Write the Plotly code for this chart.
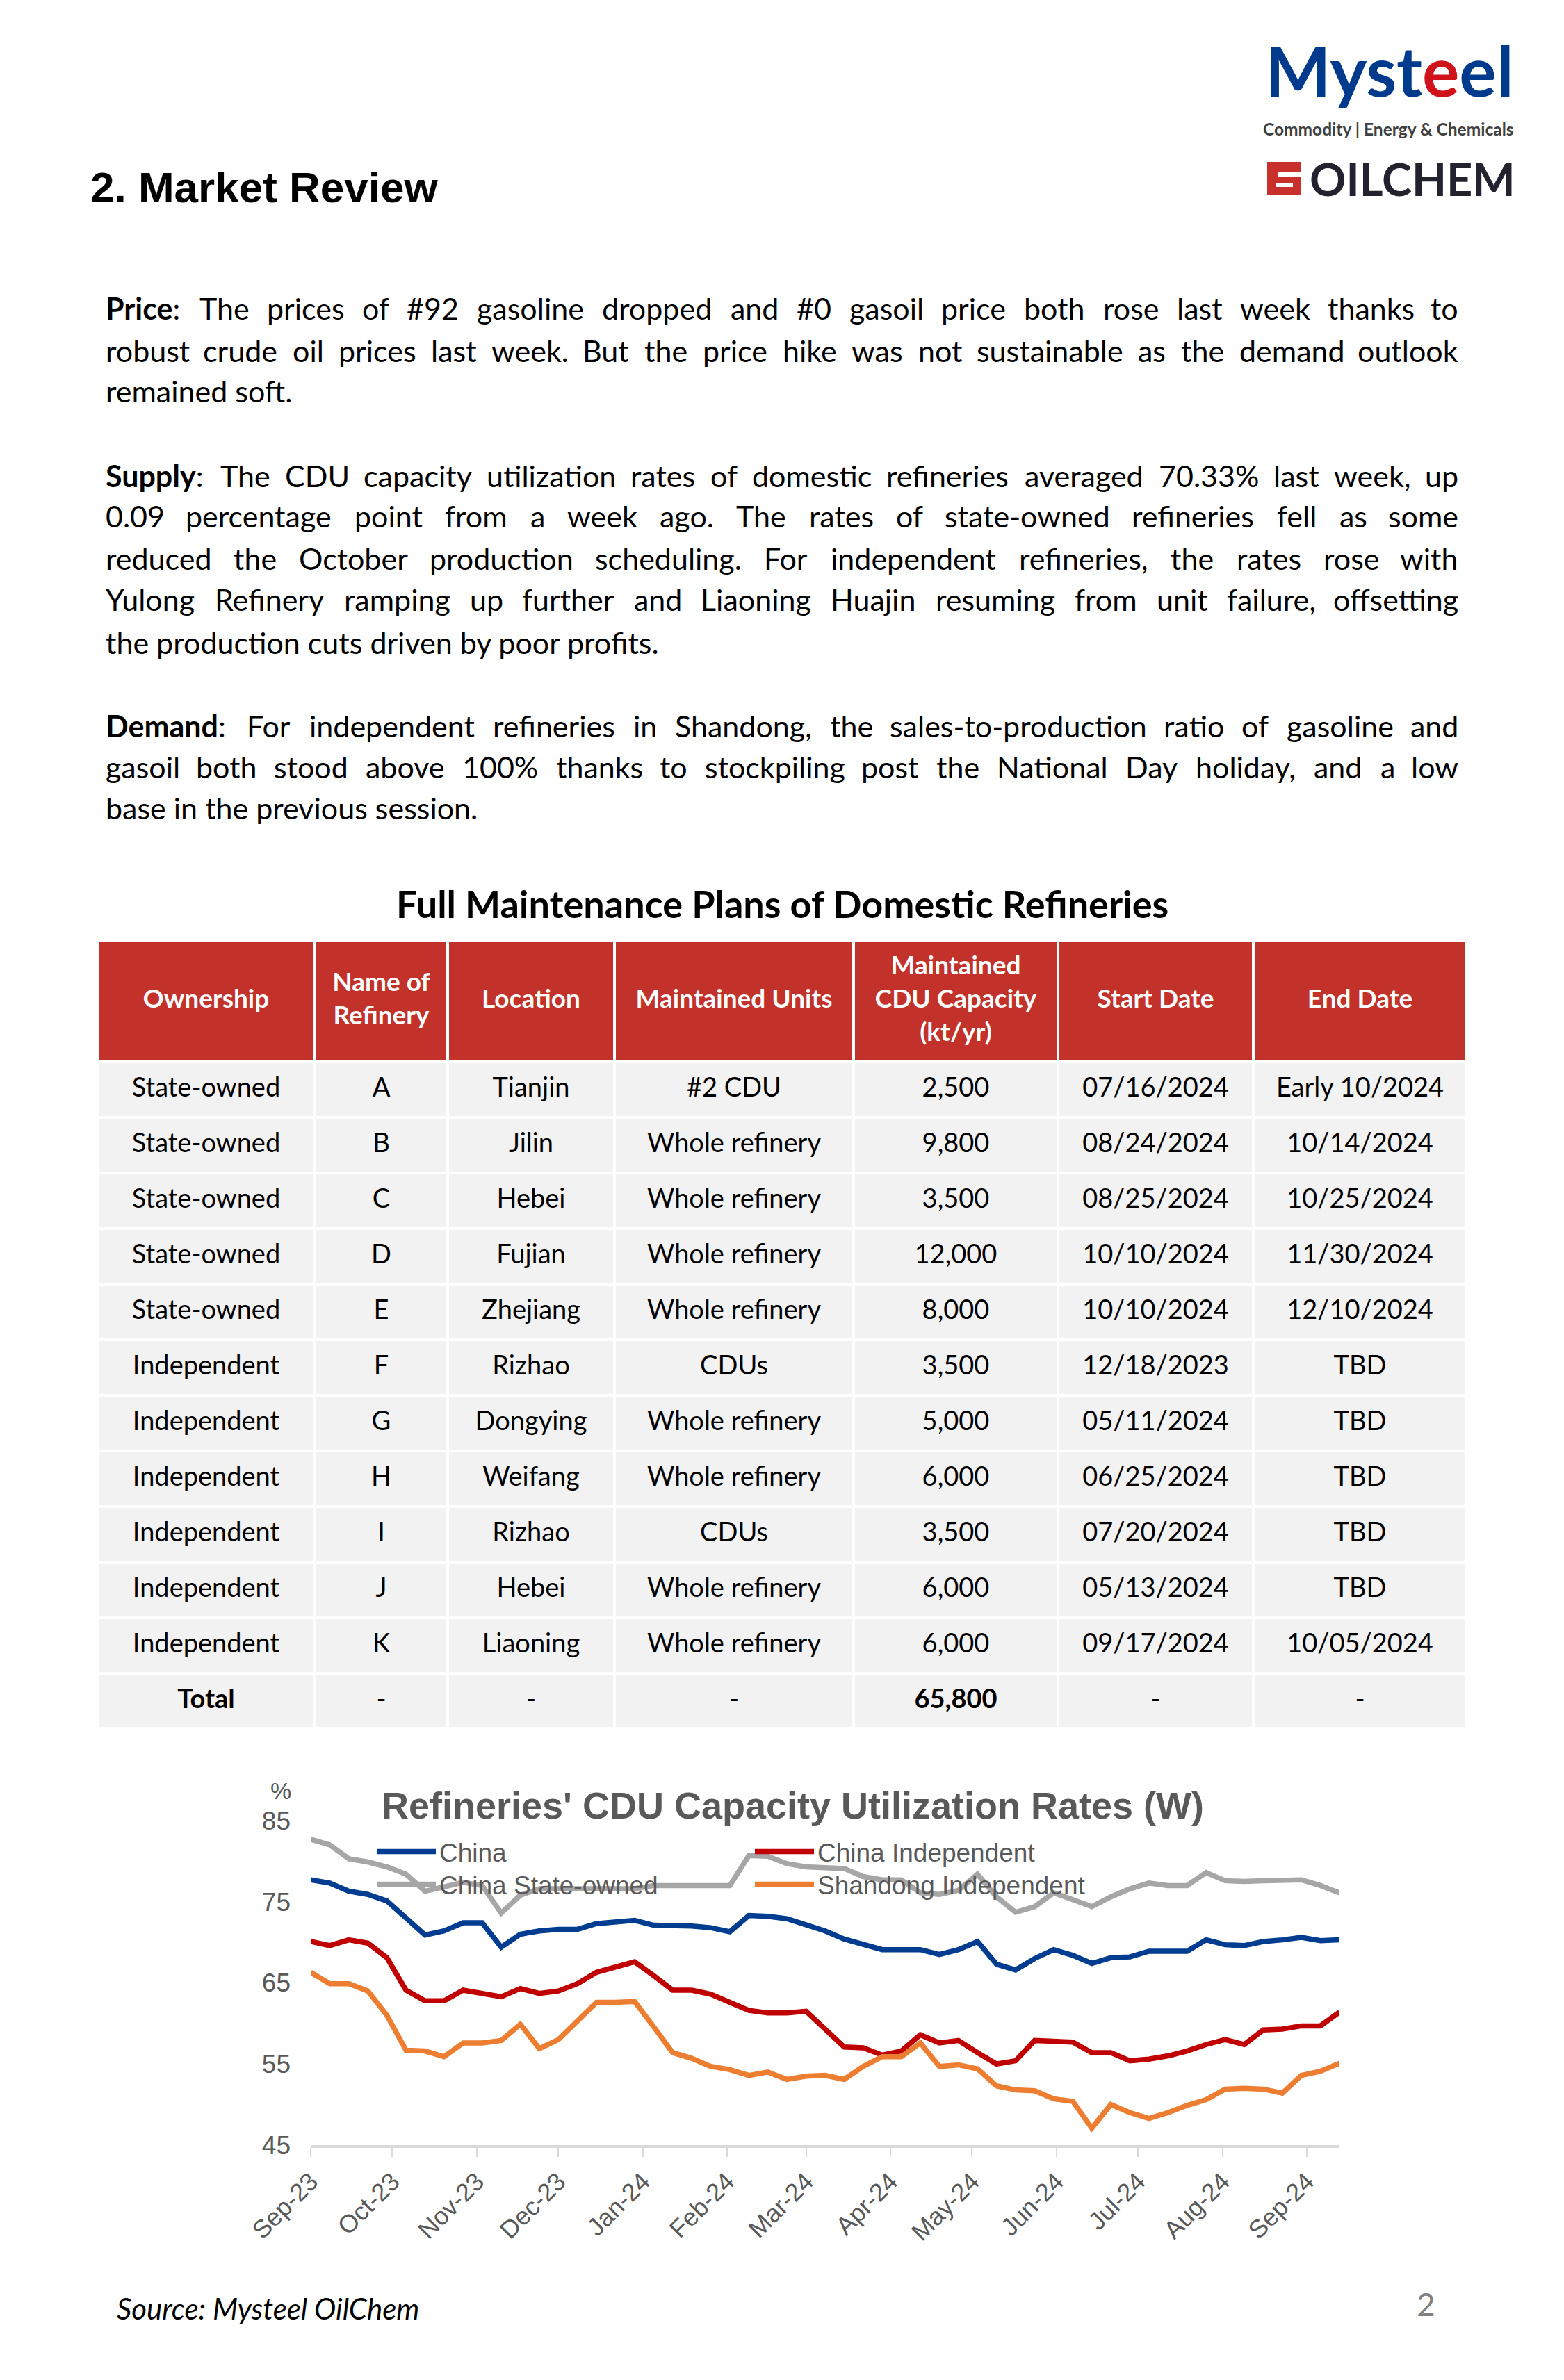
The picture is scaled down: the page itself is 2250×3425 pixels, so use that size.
"""Market review page: commentary, refinery maintenance table and CDU utilization chart."""

import pandas as pd
import plotly.graph_objects as go

PAGE_W = 2250
PAGE_H = 3425
PAGE_OFFSET = 8  # default body margin of the html page

# ---- weekly CDU capacity utilization rates (%) ----
WEEK_START = "2023-09-28"
CHINA = [
    77.7, 77.3, 76.3, 75.9, 75.1, 73.0, 70.9, 71.4, 72.4, 72.4,
    69.4, 71.0, 71.4, 71.6, 71.6, 72.3, 72.5, 72.7, 72.1, 72.1,
    72.0, 71.8, 71.3, 73.3, 73.2, 72.9, 72.1, 71.4, 70.4, 69.7,
    69.1, 69.1, 69.1, 68.5, 69.1, 70.1, 67.3, 66.6, 68.0, 69.1,
    68.4, 67.4, 68.1, 68.2, 68.9, 68.9, 68.9, 70.3, 69.7, 69.6,
    70.1, 70.3, 70.6, 70.2, 70.3,
]
CHINA_INDEPENDENT = [
    70.1, 69.6, 70.3, 69.9, 68.1, 64.1, 62.8, 62.8, 64.1, 63.7,
    63.3, 64.3, 63.7, 64.0, 64.9, 66.3, 67.0, 67.6, 65.9, 64.1,
    64.1, 63.6, 62.6, 61.6, 61.3, 61.3, 61.5, 59.4, 57.1, 57.0,
    56.1, 56.6, 58.6, 57.6, 57.9, 56.4, 55.0, 55.4, 57.9, 57.8,
    57.7, 56.4, 56.4, 55.4, 55.6, 56.0, 56.6, 57.4, 58.0, 57.4,
    59.2, 59.3, 59.7, 59.7, 61.4,
]
CHINA_STATE_OWNED = [
    82.7, 82.0, 80.3, 79.9, 79.3, 78.4, 76.3, 76.9, 77.4, 77.0,
    73.6, 75.8, 76.6, 76.6, 76.6, 76.6, 76.6, 76.6, 77.0, 77.0,
    77.0, 77.0, 77.0, 80.7, 80.6, 79.7, 79.3, 79.2, 79.1, 78.1,
    77.7, 77.7, 76.1, 75.9, 76.4, 78.4, 75.6, 73.7, 74.4, 76.1,
    75.3, 74.4, 75.6, 76.6, 77.3, 77.0, 77.0, 78.6, 77.6, 77.5,
    77.6, 77.6, 77.7, 77.0, 76.1,
]
SHANDONG_INDEPENDENT = [
    66.3, 64.9, 64.9, 64.0, 61.0, 56.7, 56.6, 55.9, 57.6, 57.6,
    57.9, 59.9, 56.9, 58.0, 60.3, 62.6, 62.6, 62.7, 59.6, 56.4,
    55.7, 54.7, 54.3, 53.6, 54.0, 53.1, 53.5, 53.6, 53.1, 54.7,
    55.9, 55.9, 57.6, 54.7, 54.9, 54.4, 52.3, 51.8, 51.7, 50.7,
    50.4, 47.1, 50.0, 49.0, 48.3, 49.0, 49.9, 50.6, 51.9, 52.0,
    51.9, 51.4, 53.6, 54.1, 55.1,
]
SERIES_NAMES = ["China", "China Independent", "China State-owned", "Shandong Independent"]
MONTH_LABELS = [
    "Sep-23", "Oct-23", "Nov-23", "Dec-23", "Jan-24", "Feb-24", "Mar-24",
    "Apr-24", "May-24", "Jun-24", "Jul-24", "Aug-24", "Sep-24",
]
Y_TICKS = [45, 55, 65, 75, 85]

# ---- full maintenance plans table ----
HEADERS = [
    "Ownership", "Name of<br>Refinery", "Location", "Maintained Units",
    "Maintained<br>CDU Capacity<br>(kt/yr)", "Start Date", "End Date",
]
OWNERSHIP = ["State-owned"] * 5 + ["Independent"] * 6 + ["<b>Total</b>"]
REFINERY = ["A", "B", "C", "D", "E", "F", "G", "H", "I", "J", "K", "-"]
LOCATION = ["Tianjin", "Jilin", "Hebei", "Fujian", "Zhejiang", "Rizhao",
            "Dongying", "Weifang", "Rizhao", "Hebei", "Liaoning", "-"]
UNITS = ["#2 CDU", "Whole refinery", "Whole refinery", "Whole refinery", "Whole refinery",
         "CDUs", "Whole refinery", "Whole refinery", "CDUs", "Whole refinery",
         "Whole refinery", "-"]
CAPACITY = ["2,500", "9,800", "3,500", "12,000", "8,000", "3,500", "5,000",
            "6,000", "3,500", "6,000", "6,000", "<b>65,800</b>"]
START_DATE = ["07/16/2024", "08/24/2024", "08/25/2024", "10/10/2024", "10/10/2024",
              "12/18/2023", "05/11/2024", "06/25/2024", "07/20/2024", "05/13/2024",
              "09/17/2024", "-"]
END_DATE = ["Early 10/2024", "10/14/2024", "10/25/2024", "11/30/2024", "12/10/2024",
            "TBD", "TBD", "TBD", "TBD", "TBD", "10/05/2024", "-"]

# ---- commentary (justified lines, last line of each paragraph flush left) ----
PARAGRAPHS = [
    [
        "<b>Price</b>: The prices of #92 gasoline dropped and #0 gasoil price both rose last week thanks to",
        "robust crude oil prices last week. But the price hike was not sustainable as the demand outlook",
        "remained soft.",
    ],
    [
        "<b>Supply</b>: The CDU capacity utilization rates of domestic refineries averaged 70.33% last week, up",
        "0.09 percentage point from a week ago. The rates of state-owned refineries fell as some",
        "reduced the October production scheduling. For independent refineries, the rates rose with",
        "Yulong Refinery ramping up further and Liaoning Huajin resuming from unit failure, offsetting",
        "the production cuts driven by poor profits.",
    ],
    [
        "<b>Demand</b>: For independent refineries in Shandong, the sales-to-production ratio of gasoline and",
        "gasoil both stood above 100% thanks to stockpiling post the National Day holiday, and a low",
        "base in the previous session.",
    ],
]
LINE_Y = [[443, 504, 563], [684, 743, 804, 863, 924], [1044, 1103, 1162]]

# ---- styles ----
BODY_FONT = "Lato, 'Open Sans', sans-serif"
CHART_FONT = "'Liberation Sans', Arial, sans-serif"
GRAY_TEXT = "#595959"
LINE_COLORS = ["#003C8F", "#C00000", "#A6A6A6", "#ED7D31"]
HEADER_RED = "#C3322A"
CELL_GRAY = "#F2F2F2"
TEXT_X0, TEXT_X1 = 150, 2100
BODY_SIZE = 43

COL_WIDTHS = [313, 191, 240, 344, 294, 281, 307]
HEADER_H = 175
ROW_H = 80
TABLE_LEFT, TABLE_TOP = 140, 1353

# rough Lato advance widths (em) used to spread words across a justified line
LATO_W = {
    "a": 0.50, "b": 0.56, "c": 0.47, "d": 0.56, "e": 0.53, "f": 0.32, "g": 0.51,
    "h": 0.56, "i": 0.24, "j": 0.24, "k": 0.50, "l": 0.24, "m": 0.84, "n": 0.56,
    "o": 0.56, "p": 0.56, "q": 0.56, "r": 0.36, "s": 0.42, "t": 0.35, "u": 0.56,
    "v": 0.50, "w": 0.77, "x": 0.49, "y": 0.50, "z": 0.45,
    "A": 0.67, "B": 0.63, "C": 0.67, "D": 0.73, "E": 0.56, "F": 0.54, "G": 0.72,
    "H": 0.75, "I": 0.28, "J": 0.40, "K": 0.65, "L": 0.50, "M": 0.90, "N": 0.75,
    "O": 0.78, "P": 0.60, "Q": 0.78, "R": 0.62, "S": 0.53, "T": 0.58, "U": 0.72,
    "V": 0.67, "W": 1.00, "X": 0.65, "Y": 0.62, "Z": 0.60,
    ".": 0.22, ",": 0.22, ":": 0.25, "-": 0.36, "%": 0.80, "#": 0.58,
}


def px(x):
    return (x - PAGE_OFFSET) / PAGE_W


def py(y):
    return 1 - (y - PAGE_OFFSET) / PAGE_H


def word_width(word, size):
    bold = "<b>" in word
    plain = word.replace("<b>", "").replace("</b>", "")
    w = sum(LATO_W.get(ch, 0.58) for ch in plain) * size
    return w * (1.05 if bold else 1.0)


def body_annotations():
    anns = []
    for lines, ys in zip(PARAGRAPHS, LINE_Y):
        for k, (line, y) in enumerate(zip(lines, ys)):
            base = dict(xref="paper", yref="paper", y=py(y), yanchor="middle",
                        showarrow=False, font=dict(family=BODY_FONT, size=BODY_SIZE, color="#000"))
            if k == len(lines) - 1:
                anns.append(dict(base, x=px(TEXT_X0), xanchor="left", text=line))
                continue
            words = line.split(" ")
            widths = [word_width(w, BODY_SIZE) for w in words]
            gap = (TEXT_X1 - TEXT_X0 - sum(widths)) / (len(words) - 1)
            x = TEXT_X0
            for i, (w, wd) in enumerate(zip(words, widths)):
                if i == 0:
                    anns.append(dict(base, x=px(TEXT_X0), xanchor="left", text=w))
                elif i == len(words) - 1:
                    anns.append(dict(base, x=px(TEXT_X1), xanchor="right", text=w))
                else:
                    anns.append(dict(base, x=px(x + wd / 2), xanchor="center", text=w))
                x += wd + gap
    return anns


fig = go.Figure()

# ---- table drawn as a heatmap of bricks on hidden axes ----
col_edges = [0]
for w in COL_WIDTHS:
    col_edges.append(col_edges[-1] + w)
n_rows = len(OWNERSHIP)
row_edges = [0, HEADER_H] + [HEADER_H + ROW_H * (k + 1) for k in range(n_rows)]
table_h = row_edges[-1]
z = [[0] * len(COL_WIDTHS)] + [[1] * len(COL_WIDTHS) for _ in range(n_rows)]
fig.add_trace(go.Heatmap(
    x=col_edges, y=row_edges, z=z, xaxis="x2", yaxis="y2",
    colorscale=[[0, HEADER_RED], [1, CELL_GRAY]], zmin=0, zmax=1,
    showscale=False, xgap=4, ygap=4, hoverinfo="skip",
))
col_centers = [(a + b) / 2 for a, b in zip(col_edges[:-1], col_edges[1:])]
fig.add_trace(go.Scatter(
    x=col_centers, y=[HEADER_H / 2] * len(HEADERS), text=[f"<b>{h}</b>" for h in HEADERS],
    mode="text", xaxis="x2", yaxis="y2", textposition="middle center",
    textfont=dict(family=BODY_FONT, size=37, color="white"),
    hoverinfo="skip", showlegend=False, cliponaxis=False,
))
columns = [OWNERSHIP, REFINERY, LOCATION, UNITS, CAPACITY, START_DATE, END_DATE]
cell_x, cell_y, cell_text = [], [], []
for c, values in enumerate(columns):
    for r, v in enumerate(values):
        cell_x.append(col_centers[c])
        cell_y.append(HEADER_H + ROW_H * r + ROW_H / 2)
        cell_text.append(v)
fig.add_trace(go.Scatter(
    x=cell_x, y=cell_y, text=cell_text, mode="text", xaxis="x2", yaxis="y2",
    textposition="middle center", textfont=dict(family=BODY_FONT, size=38, color="#000"),
    hoverinfo="skip", showlegend=False, cliponaxis=False,
))

# ---- utilization chart ----
weeks = pd.date_range(WEEK_START, periods=len(CHINA), freq="7D")
month_ticks = pd.date_range(WEEK_START, periods=len(MONTH_LABELS), freq=pd.DateOffset(months=1))
for name, values, color, leg in zip(
    SERIES_NAMES,
    [CHINA, CHINA_INDEPENDENT, CHINA_STATE_OWNED, SHANDONG_INDEPENDENT],
    LINE_COLORS,
    ["legend", "legend", "legend2", "legend2"],
):
    fig.add_trace(go.Scatter(
        x=weeks, y=values, name=name, mode="lines", legend=leg,
        line=dict(color=color, width=7.5), hoverinfo="skip",
    ))

legend_style = dict(
    orientation="h", xanchor="left", yanchor="middle", x=px(537),
    entrywidth=444, entrywidthmode="pixels", itemwidth=85,
    font=dict(family=CHART_FONT, size=37, color=GRAY_TEXT),
    bgcolor="rgba(0,0,0,0)", itemclick=False, itemdoubleclick=False,
)

annotations = body_annotations()
annotations += [
    # logo
    dict(x=px(2180), y=py(100), xanchor="right", yanchor="middle",
         text="<b><span style='color:#003A8C'>Myst</span><span style='color:#D0121B'>e</span>"
              "<span style='color:#003A8C'>el</span></b>",
         font=dict(family=BODY_FONT, size=100)),
    dict(x=px(2180), y=py(186), xanchor="right", yanchor="middle",
         text="<b>Commodity | Energy &amp; Chemicals</b>",
         font=dict(family=BODY_FONT, size=24.5, color="#404040")),
    dict(x=px(2182), y=py(257), xanchor="right", yanchor="middle", text="<b>OILCHEM</b>",
         font=dict(family=BODY_FONT, size=65, color="#23232F")),
    # headings
    dict(x=px(128), y=py(270), xanchor="left", yanchor="middle", text="<b>2. Market Review</b>",
         font=dict(family=CHART_FONT, size=62, color="#000")),
    dict(x=px(1125), y=py(1300), xanchor="center", yanchor="middle",
         text="<b>Full Maintenance Plans of Domestic Refineries</b>",
         font=dict(family=BODY_FONT, size=54, color="#000")),
    # chart texts
    dict(x=px(1140), y=py(2598), xanchor="center", yanchor="middle",
         text="<b>Refineries' CDU Capacity Utilization Rates (W)</b>",
         font=dict(family=CHART_FONT, size=54, color=GRAY_TEXT)),
    dict(x=px(404), y=py(2577), xanchor="center", yanchor="middle", text="%",
         font=dict(family=CHART_FONT, size=34, color=GRAY_TEXT)),
    # footer
    dict(x=px(166), y=py(3322), xanchor="left", yanchor="middle",
         text="<i>Source: Mysteel OilChem</i>", font=dict(family=BODY_FONT, size=42, color="#000")),
    dict(x=px(2051), y=py(3315), xanchor="center", yanchor="middle", text="2",
         font=dict(family=BODY_FONT, size=46, color="#808080")),
]
for a in annotations:
    a.setdefault("xref", "paper")
    a.setdefault("yref", "paper")
    a.setdefault("showarrow", False)

# OilChem red mark
shapes = [
    dict(type="rect", xref="paper", yref="paper", x0=px(1823), x1=px(1871), y0=py(281), y1=py(233),
         fillcolor="#C8302B", line=dict(width=0)),
    dict(type="rect", xref="paper", yref="paper", x0=px(1838), x1=px(1872), y0=py(254), y1=py(248),
         fillcolor="white", line=dict(width=0)),
    dict(type="rect", xref="paper", yref="paper", x0=px(1836), x1=px(1860), y0=py(269), y1=py(264),
         fillcolor="white", line=dict(width=0)),
]

fig.update_layout(
    width=PAGE_W, height=PAGE_H, margin=dict(l=0, r=0, t=0, b=0, autoexpand=False),
    paper_bgcolor="white", plot_bgcolor="white",
    annotations=annotations, shapes=shapes,
    legend=dict(legend_style, y=py(2665)),
    legend2=dict(legend_style, y=py(2712)),
    xaxis=dict(
        domain=[px(447), px(1927)], anchor="y", type="date", automargin=False,
        range=[weeks[0], weeks[-1]], tickvals=month_ticks, ticktext=MONTH_LABELS,
        tickangle=-45, ticks="outside", ticklen=13, tickwidth=2, tickcolor="#D9D9D9",
        showline=True, linecolor="#D9D9D9", linewidth=4, showgrid=False, zeroline=False,
        tickfont=dict(family=CHART_FONT, size=36, color=GRAY_TEXT), fixedrange=True,
    ),
    yaxis=dict(
        domain=[py(3087), py(2620)], anchor="x", range=[45, 85], tickvals=Y_TICKS,
        automargin=False, showgrid=False, zeroline=False, showline=False, ticks="",
        ticklabelstandoff=28, fixedrange=True,
        tickfont=dict(family=CHART_FONT, size=37, color=GRAY_TEXT),
    ),
    xaxis2=dict(domain=[px(TABLE_LEFT), px(TABLE_LEFT + sum(COL_WIDTHS))], anchor="y2",
                range=[0, sum(COL_WIDTHS)], visible=False, fixedrange=True, automargin=False),
    yaxis2=dict(domain=[py(TABLE_TOP + table_h), py(TABLE_TOP)], anchor="x2",
                range=[table_h, 0], visible=False, fixedrange=True, automargin=False),
)

fig.write_html("out.html")
